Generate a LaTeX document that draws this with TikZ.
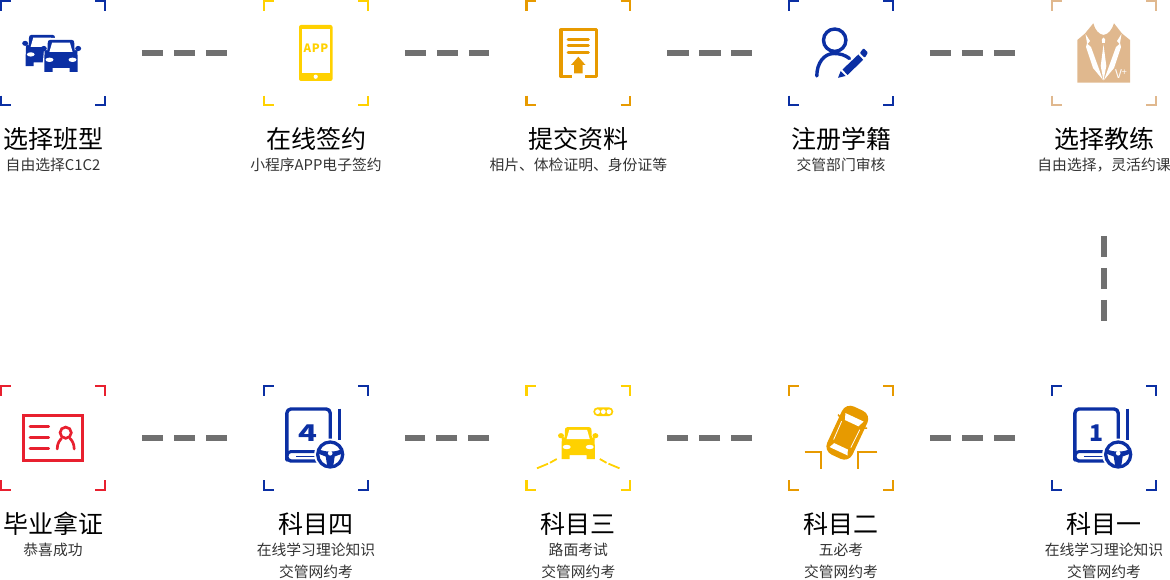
\documentclass[tikz,border=0pt]{standalone}
\usepackage{fontspec}
\setmainfont{Noto Sans CJK SC}
\definecolor{cblue}{HTML}{0B2FA3}
\definecolor{cyellow}{HTML}{FFD100}
\definecolor{corange}{HTML}{E79A00}
\definecolor{ctan}{HTML}{E0B88E}
\definecolor{cred}{HTML}{E8202F}
\definecolor{cdash}{HTML}{707070}
\newcommand{\brk}[2]{%
  \draw[bracket,#2] ([yshift=-9.5]#1.north west) |- ([xshift=9.5]#1.north west);
  \draw[bracket,#2] ([xshift=-9.5]#1.north east) -| ([yshift=-9.5]#1.north east);
  \draw[bracket,#2] ([yshift=9.5]#1.south west) |- ([xshift=9.5]#1.south west);
  \draw[bracket,#2] ([xshift=-9.5]#1.south east) -| ([yshift=9.5]#1.south east);
}
\tikzset{
  frame/.style={minimum width=103.8pt,minimum height=103.8pt,inner sep=0pt,outer sep=0pt},
  bracket/.style={line width=2.2pt},
  link/.style={line width=6pt,cdash,dash pattern=on 21.5pt off 10.5pt},
  title/.style={font=\fontsize{25}{25}\selectfont,text=black,inner sep=0pt},
  sub/.style={font=\fontsize{14.8}{14.8}\selectfont,text=black!80,inner sep=0pt},
  pics/car/.style={code={
    \path[pic actions] (-10.7,-16) -- (10.7,-16) to[out=0,in=110] (13.8,-5) -- (15,-6) to[out=30,in=-30] (16.3,-3.5) -- (16.5,-1) -- (16.7,11) -- (16.7,16) -- (8.5,16) -- (8.5,12)
      -- (-8.5,12) -- (-8.5,16) -- (-16.7,16) -- (-16.7,11) -- (-16.5,-1) -- (-16.3,-3.5) to[out=210,in=150] (-15,-6) -- (-13.8,-5) to[out=70,in=180] cycle;
    \fill[pic actions] (-17.2,-7.3) ellipse[x radius=3,y radius=2.6] (17.2,-7.3) ellipse[x radius=3,y radius=2.6];
    \fill[white] (-8.9,-13.2) -- (8.9,-13.2) -- (11.6,-3.8) -- (-11.6,-3.8) -- cycle;
    \fill[white] (-11.5,4) ellipse[x radius=4,y radius=2.2] (11.5,4) ellipse[x radius=4,y radius=2.2];
  }},
  pics/book/.style={code={
    \draw[cblue,line width=3.4pt,line join=round,rounded corners=4pt] (42,43) -- (42,9) -- (-1.3,9) -- (-1.3,56) -- (-1.3,61) -- (31,61);
    \draw[cblue,line width=3pt,rounded corners=3pt] (-1.3,56) -- (0,51.5) -- (29,51.5);
    \draw[cblue,line width=1.5pt] (8,56.5) -- (29,56.5);
    \draw[cblue,line width=3.4pt] (51.3,8.5) -- (51.3,40);
    \fill[white] (42,54.5) circle[radius=16];
    \draw[cblue,line width=3.3pt] (42,54.5) circle[radius=12.5];
    \fill[cblue] (31,49.5) to[out=-20,in=200] (53,49.5) -- (53,54) -- (46.5,56.5) -- (45,66) -- (39,66) -- (37.5,56.5) -- (31,54) -- cycle;
    \fill[white] (42,53.3) circle[radius=2.3];
  }}
}
\begin{document}
\begin{tikzpicture}[x=1pt,y=-1pt]
\useasboundingbox (0,0) rectangle (1170,580);
% frames
\node[frame] (f1) at (53,53.3) {};
\node[frame] (f2) at (316,53.3) {};
\node[frame] (f3) at (578.3,53.3) {};
\node[frame] (f4) at (841,53.3) {};
\node[frame] (f5) at (1104,53.3) {};
\node[frame] (f6) at (1104,438) {};
\node[frame] (f7) at (841,438) {};
\node[frame] (f8) at (578.3,438) {};
\node[frame] (f9) at (316,438) {};
\node[frame] (f10) at (53,438) {};
\brk{f1}{cblue}\brk{f2}{cyellow}\brk{f3}{corange}\brk{f4}{cblue}\brk{f5}{ctan}
\brk{f6}{cblue}\brk{f7}{corange}\brk{f8}{cyellow}\brk{f9}{cblue}\brk{f10}{cred}
% connectors
\draw[link] ([xshift=37]f1.east) -- ([xshift=-37]f2.west);
\draw[link] ([xshift=37]f2.east) -- ([xshift=-37]f3.west);
\draw[link] ([xshift=37]f3.east) -- ([xshift=-37]f4.west);
\draw[link] ([xshift=37]f4.east) -- ([xshift=-37]f5.west);
\draw[link] ([yshift=-130.7]f5.south) -- ([yshift=65]f6.north);
\draw[link] ([xshift=-37]f6.west) -- ([xshift=37]f7.east);
\draw[link] ([xshift=-37]f7.west) -- ([xshift=37]f8.east);
\draw[link] ([xshift=-37]f8.west) -- ([xshift=37]f9.east);
\draw[link] ([xshift=-37]f9.west) -- ([xshift=37]f10.east);
% titles
\node[title] (t1) at (53,139) {选择班型};
\node[title] (t2) at (316,139) {在线签约};
\node[title] (t3) at (578.3,139) {提交资料};
\node[title] (t4) at (841,139) {注册学籍};
\node[title] (t5) at (1104,139) {选择教练};
\node[title] (t6) at (1104,524) {科目一};
\node[title] (t7) at (841,524) {科目二};
\node[title] (t8) at (578.3,524) {科目三};
\node[title] (t9) at (316,524) {科目四};
\node[title] (t10) at (53,524) {毕业拿证};
% subtitles
\node[sub] (s1) at (53,165) {自由选择C1C2};
\node[sub] (s2) at (316,165) {小程序APP电子签约};
\node[sub] (s3) at (578.3,165) {相片、体检证明、身份证等};
\node[sub] (s4) at (841,165) {交管部门审核};
\node[sub] (s5) at (1104,165) {自由选择，灵活约课};
\node[sub] (s6) at (1104,550) {在线学习理论知识};
\node[sub] (s6b) at (1104,572) {交管网约考};
\node[sub] (s7) at (841,550) {五必考};
\node[sub] (s7b) at (841,572) {交管网约考};
\node[sub] (s8) at (578.3,550) {路面考试};
\node[sub] (s8b) at (578.3,572) {交管网约考};
\node[sub] (s9) at (316,550) {在线学习理论知识};
\node[sub] (s9b) at (316,572) {交管网约考};
\node[sub] (s10) at (53,550) {恭喜成功};
% icon 1: two cars
\pic[fill=cblue,scale=0.98] at (42,50.5) {car};
\draw[white,line width=4pt,line join=round] (50.5,40) -- (71.5,40) -- (76,50) -- (78,72) -- (44,72) -- (46,50) -- cycle;
\fill[white] (45,40) rectangle (76,72);
\pic[fill=cblue] at (61,55.8) {car};
% icon 2: phone
\fill[cyellow,rounded corners=2pt] (299,25) rectangle (332.5,81);
\fill[white] (301.8,29.5) rectangle (329.8,72.7);
\fill[white] (315.7,76.7) circle[radius=2.1];
\node[inner sep=0pt,text=cyellow,font=\fontsize{11.5}{11.5}\selectfont\bfseries\addfontfeature{LetterSpace=5}] (app) at (316,48) {APP};
% icon 3: document
\draw[corange,line width=3.2pt,line join=round] (571.5,76.7) -- (560.9,76.7) -- (560.9,29.9) -- (596.1,29.9) -- (596.1,76.7) -- (585,76.7);
\draw[corange,line width=2.8pt,line cap=round] (568,39.3) -- (588.5,39.3) (568,45.8) -- (588.5,45.8) (568,52.6) -- (588.5,52.6);
\fill[corange] (578.3,56.7) -- (585.5,65 ) -- (582.5,65) -- (582.5,73.3) -- (574,73.3) -- (574,65) -- (571,65) -- cycle;
% icon 4: person
\draw[cblue,line width=3.4pt] (834.7,40.2) circle[radius=11.2];
\draw[cblue,line width=3.4pt,line cap=round] (816.8,76) .. controls (816.8,63) and (824,53.5) .. (834,53.5) .. controls (840,53.5) and (845,55) .. (849.5,58.5);
\fill[cblue] (842.5,69.5) -- (858.3,54.5) -- (863.2,59.8) -- (847.5,75) -- cycle;
\fill[cblue] (838,77.8) -- (840.7,71) -- (845.5,76) -- cycle;
\fill[cblue,rounded corners=1pt] (859.8,53) -- (863.5,48.2) -- (868,52.6) -- (864.8,57.8) -- cycle;
% icon 5: suit
\fill[ctan] (1077.3,40) -- (1085,33.5) -- (1093.3,23.3) .. controls (1095,30) and (1099,34.5) .. (1103.5,35) .. controls (1108,34.5) and (1112,30) .. (1114,23.3) -- (1122,33.5) -- (1130,40) -- (1130,82.7) -- (1077.3,82.7) -- cycle;
\fill[white] (1085.5,34) -- (1090,41) -- (1087.5,44) -- (1091,47) -- (1103,80) -- (1093,68) -- (1086,47) -- (1087,43) -- cycle;
\fill[white] (1121.5,34) -- (1117,41) -- (1119.5,44) -- (1116,47) -- (1104,80) -- (1114,68) -- (1121,47) -- (1120,43) -- cycle;
\fill[white] (1103.5,37.5) -- (1105.2,39.5) -- (1104.8,43) -- (1102.2,43) -- (1101.8,39.5) -- cycle;
\fill[white] (1103.5,44.5) -- (1106.3,66) -- (1103.5,80.5) -- (1100.7,66) -- cycle;
\node[inner sep=0pt,text=white,font=\fontsize{12}{12}\selectfont] (vip) at (1121,74) {V\raisebox{3pt}{\fontsize{9}{9}\selectfont+}};
% icon 6: licence
\draw[cred,line width=3pt] (23.8,415.5) rectangle (82.5,460.7);
\draw[cred,line width=2.6pt,line cap=round] (30,426.7) -- (48.7,426.7) (30,437.7) -- (48.7,437.7) (30,448.7) -- (48.7,448.7);
\draw[cred,line width=2.7pt] (65.7,432.7) circle[radius=5.6];
\draw[cred,line width=2.7pt,line cap=round] (57.2,449) .. controls (57.2,443) and (60,440) .. (61.5,438.5);
\draw[cred,line width=2.7pt,line cap=round] (74.2,449) .. controls (74.2,443) and (71.5,440) .. (70,438.5);
% icon 7 and 10: books with wheels
\pic at (288.2,400) {book};
\node[inner sep=0pt,text=cblue,font=\fontsize{23}{23}\selectfont\bfseries] (d4) at (308,433) {\scalebox{1.35}[1]{4}};
\pic at (1076.2,400) {book};
\node[inner sep=0pt,text=cblue,font=\fontsize{23}{23}\selectfont\bfseries] (d1) at (1096,433) {1};
% icon 8: road car
\pic[fill=cyellow] at (578.2,443) {car};
\fill[cyellow,rounded corners=4.3pt] (593.3,407.3) rectangle (613.3,416);
\fill[white] (597.6,411.7) circle[radius=2.4] (603.3,411.7) circle[radius=2.4] (609,411.7) circle[radius=2.4];
\draw[cyellow,line width=1.8pt] (537,468.3) -- (548,463.7) (550,462.8) -- (556.7,459) (599.8,459) -- (606.5,462.8) (608.5,463.7) -- (619.5,468.3);
% icon 9: parking
\begin{scope}[shift={(847.3,432.7)},rotate=-25]
\draw[corange,line width=1.5pt] (-13,-11) -- (-16,-12.5) (13,-11) -- (16,-12.5);
\fill[corange,rounded corners=9pt] (-14,-26.5) rectangle (14,26.5);
\fill[white] (-7.5,-10.5) -- (7.5,-10.5) -- (10,-17) -- (-10,-17) -- cycle;
\fill[white] (-7.5,15) -- (7.5,15) -- (10,20.5) -- (-10,20.5) -- cycle;
\draw[white,line width=0.8pt] (-10,-8) -- (-9.5,12) (10,-8) -- (9.5,12);
\end{scope}
\draw[corange,line width=2.2pt] (804.7,451.7) -- (821,451.7) -- (821,469.3);
\draw[corange,line width=2.2pt] (877.3,451.7) -- (857.7,451.7) -- (857.7,469.3);
\end{tikzpicture}
\end{document}
